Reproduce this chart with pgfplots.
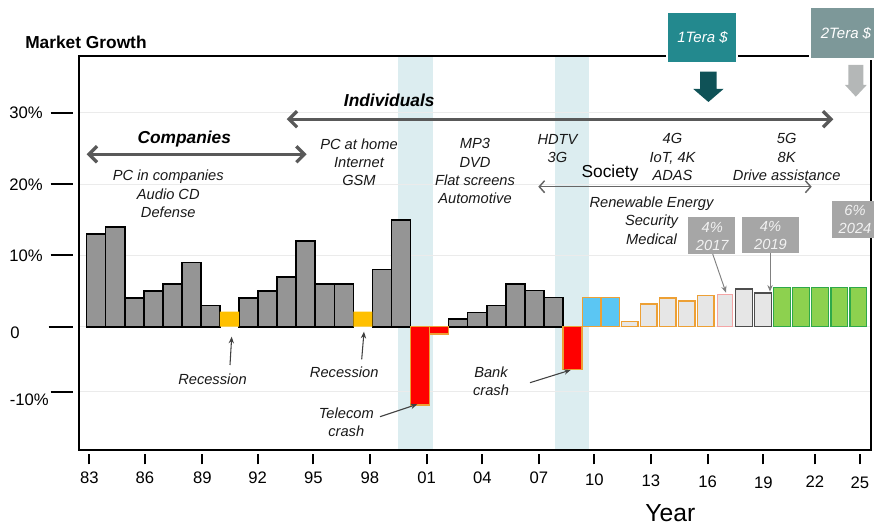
\documentclass[border=0pt]{standalone}
\usepackage{fontspec}
\setmainfont{Liberation Sans}
\usepackage{pgfplots}
\pgfplotsset{compat=1.18}
\usetikzlibrary{arrows.meta}

\definecolor{barGray}{HTML}{959595}
\definecolor{recYellow}{HTML}{FFC000}
\definecolor{crashRed}{HTML}{FF0000}
\definecolor{edgeOrange}{HTML}{EDA035}
\definecolor{skyBlue}{HTML}{5BC6F3}
\definecolor{paleGray}{HTML}{E6E6E6}
\definecolor{edgePink}{HTML}{F4A5A5}
\definecolor{edgeDark}{HTML}{4D4D4D}
\definecolor{leafGreen}{HTML}{8DD14F}
\definecolor{edgeGreen}{HTML}{2EA84A}
\definecolor{bandBlue}{HTML}{DCEDF0}
\definecolor{arrGray}{HTML}{595959}
\definecolor{lblBox}{HTML}{A6A6A6}
\definecolor{teraA}{HTML}{23898E}
\definecolor{teraAarr}{HTML}{0F5257}
\definecolor{teraB}{HTML}{7D9899}
\definecolor{teraBarr}{HTML}{B4B7B7}

% x tick: short bar above the year
\newcommand{\xt}[2]{\rule{1.5pt}{8pt}\\\raisebox{#2}{#1}}
% y tick: label then a dash
\newcommand{\yt}[1]{#1\hspace{6pt}\rule[3.67pt]{16.5pt}{1.6pt}}

\begin{document}
\begin{tikzpicture}[
  px/.style={x=0.75pt,y=-0.75pt,shift={(-59.25pt,337.5pt)}},
  ann/.style={font=\fontsize{11}{13.7}\selectfont\itshape, align=center, inner sep=0pt, text=black!90, anchor=north},
  thinarrow/.style={draw=black!75, line width=0.8pt, -{Stealth[length=5pt,width=4pt]}},
]
\begin{axis}[
  at={(0pt,0pt)}, anchor=south west,
  scale only axis, width=594pt, height=295.5pt,
  xmin=1982.6, xmax=2024.17, ymin=-17.29, ymax=37.97,
  axis line style={line width=1.2pt, black},
  set layers,
  major tick length=0pt,
  tick style={draw=none},
  ytick={-9.12,0,10,20,30},
  yticklabels={
    {\raisebox{-5.5pt}{-10\%}\hspace{1.5pt}\rule[3.67pt]{16.5pt}{1.6pt}},
    {\raisebox{-4.4pt}{0}\hspace{21.75pt}\rule[3.67pt]{18pt}{1.6pt}\hspace{-3.75pt}},
    {\yt{10\%}}, {\yt{20\%}}, {\yt{30\%}}},
  yticklabel style={anchor=base east, inner sep=0pt, xshift=-4.5pt, yshift=-4.47pt,
    font=\fontsize{12.5}{15}\selectfont},
  xtick={1983.14,1986.06,1989.07,1991.98,1994.90,1997.87,2000.85,2003.77,
         2006.74,2009.65,2012.62,2015.60,2018.52,2021.23,2023.59},
  xticklabels={{\xt{83}{0pt}},{\xt{86}{0pt}},{\xt{89}{0pt}},{\xt{92}{0pt}},
    {\xt{95}{0pt}},{\xt{98}{0pt}},{\xt{01}{0pt}},{\xt{04}{0pt}},{\xt{07}{0pt}},
    {\xt{10}{-1pt}},{\xt{13}{-1.8pt}},{\xt{16}{-2.6pt}},{\xt{19}{-3.2pt}},
    {\xt{22}{-2.6pt}},{\xt{25}{-3.2pt}}},
  xticklabel style={anchor=north, align=center, inner sep=0pt, yshift=-2.5pt,
    font=\fontsize{12.5}{14.75}\selectfont},
  ymajorgrids, grid style={black!8, line width=0.8pt},
  clip=false,
]
\begin{pgfonlayer}{axis background}
\fill[bandBlue] (axis cs:1999.33,-17.29) rectangle (axis cs:2001.16,37.97);
\fill[bandBlue] (axis cs:2007.57,-17.29) rectangle (axis cs:2009.35,37.97);
\end{pgfonlayer}

% growth before 2008
\addplot[ybar, bar width=1, bar shift=0pt, fill=barGray, draw=black, line width=1.2pt]
coordinates {(1983.5,13) (1984.5,14) (1985.5,4) (1986.5,5) (1987.5,6) (1988.5,9)
  (1989.5,3) (1991.5,4) (1992.5,5) (1993.5,7) (1994.5,12) (1995.5,6) (1996.5,6)
  (1998.5,8) (1999.5,15) (2002.5,1.1) (2003.5,2) (2004.5,3) (2005.5,6)
  (2006.5,5.1) (2007.5,4.1)};
% recessions
\addplot[ybar, bar width=1, bar shift=0pt, fill=recYellow, draw=none]
coordinates {(1990.5,2.1) (1997.5,2.1)};
% crashes
\addplot[ybar, bar width=1, bar shift=0pt, fill=crashRed, draw=edgeOrange, line width=1.1pt]
coordinates {(2000.5,-11) (2001.5,-1) (2008.5,-6)};
\addplot[ybar, bar width=0.95, bar shift=0pt, fill=skyBlue, draw=edgeOrange, line width=1.1pt]
coordinates {(2009.5,4.1) (2010.5,4.1)};
\addplot[ybar, bar width=0.88, bar shift=0pt, fill=paleGray, draw=edgeOrange, line width=1.1pt]
coordinates {(2011.5,0.7) (2012.5,3.2) (2013.5,4) (2014.5,3.6) (2015.5,4.4)};
\addplot[ybar, bar width=0.8, bar shift=0pt, fill=paleGray, draw=edgePink, line width=1.1pt]
coordinates {(2016.5,4.5)};
\addplot[ybar, bar width=0.88, bar shift=0pt, fill=paleGray, draw=edgeDark, line width=1.1pt]
coordinates {(2017.5,5.3) (2018.5,4.7)};
\addplot[ybar, bar width=0.88, bar shift=0pt, fill=leafGreen, draw=edgeGreen, line width=1.1pt]
coordinates {(2019.5,5.5) (2020.5,5.5) (2021.5,5.5) (2022.5,5.5) (2023.5,5.5)};
\end{axis}

\useasboundingbox (-59.25pt,-57.75pt) rectangle (596.25pt,337.5pt);

\begin{scope}[px]
\node[anchor=base west, inner sep=0pt, font=\fontsize{13}{15}\selectfont\bfseries] at (25,48.3) {Market Growth};

\draw[arrGray, line width=2.5pt, {Straight Barb[length=6pt,width=12pt]}-{Straight Barb[length=6pt,width=12pt]}]
  (86.7,154.3) -- (306.7,154.3);
\node[anchor=base, inner sep=0pt, font=\fontsize{13}{15}\selectfont\bfseries\itshape] at (184.3,143.3) {Companies};
\node[ann] at (168.3,170) {PC in companies\\Audio CD\\Defense};

\draw[arrGray, line width=2.5pt, {Straight Barb[length=6pt,width=12pt]}-{Straight Barb[length=6pt,width=12pt]}]
  (286.7,119.2) -- (833.3,119.2);
\node[anchor=base, inner sep=0pt, font=\fontsize{13}{15}\selectfont\bfseries\itshape] at (389.2,106.7) {Individuals};
\node[ann] at (359,138.3) {PC at home\\Internet\\GSM};
\node[ann] at (475,138.3) {MP3\\DVD\\Flat screens\\Automotive};
\node[ann] at (557.5,134) {HDTV\\3G};
\node[ann] at (672.5,133.3) {4G\\IoT, 4K\\ADAS};
\node[ann] at (786.7,133.3) {5G\\8K\\Drive assistance};

\draw[black!60, line width=1.1pt, {Straight Barb[length=4pt,width=9pt]}-{Straight Barb[length=4pt,width=9pt]}]
  (538.3,186.7) -- (811.7,186.7);
\node[anchor=base, inner sep=0pt, font=\fontsize{13}{15}\selectfont] at (610,178) {Society};
\node[ann] at (651.5,196.7) {Renewable Energy\\Security\\Medical};

\fill[lblBox] (688.3,217.3) rectangle (735,254);
\node[ann, text=white!95!black] at (712.3,221.7) {4\%\\2017};
\fill[lblBox] (741.7,216.7) rectangle (799.3,252.7);
\node[ann, text=white!95!black] at (770.5,221) {4\%\\2019};
\fill[lblBox] (831.7,200.7) rectangle (900,237.7);
\node[ann, text=white!95!black] at (855,205) {6\%\\2024};
\draw[black!50, line width=0.7pt, -{Stealth[length=5pt,width=4pt]}] (712.7,254) -- (726,292.7);
\draw[black!50, line width=0.7pt, -{Stealth[length=5pt,width=4pt]}] (770,252.7) -- (770,291.7);

\filldraw[fill=teraA, draw=white, line width=1.5pt] (666.7,11.7) rectangle (736.7,62.7);
\node[font=\fontsize{11.25}{13}\selectfont\itshape, text=white, inner sep=0pt] at (702.5,37.5) {1Tera \$};
\fill[teraAarr] (700,71.7) -- (716.7,71.7) -- (716.7,89) -- (723.5,89) -- (708.4,102)
  -- (693.3,89) -- (700,89) -- cycle;
\filldraw[fill=teraB, draw=white, line width=1.5pt] (810,6.7) rectangle (900,59.3);
\node[anchor=west, font=\fontsize{11.25}{13}\selectfont\itshape, text=white, inner sep=0pt] at (820.5,33) {2Tera \$};
\fill[teraBarr] (848.3,65) -- (863.3,65) -- (863.3,85) -- (866.7,85) -- (855.8,96.7)
  -- (845,85) -- (848.3,85) -- cycle;

\node[ann] at (212.5,373.3) {Recession};
\draw[thinarrow] (230,365) -- (231.7,336.7);
\node[ann] at (344.2,366.7) {Recession};
\draw[thinarrow] (361.7,359.3) -- (364,331.7);
\node[ann] at (346.3,407.3) {Telecom\\crash};
\draw[thinarrow] (380,416.7) -- (417.3,404.3);
\node[ann] at (491,366.7) {Bank\\crash};
\draw[thinarrow] (530,382.7) -- (570.7,370);

\node[anchor=base, inner sep=0pt, font=\fontsize{18.5}{21}\selectfont] at (670.3,521.5) {Year};
\end{scope}
\end{tikzpicture}
\end{document}
